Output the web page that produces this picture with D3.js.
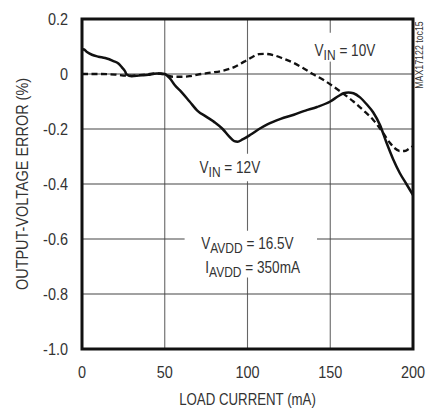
<!DOCTYPE html>
<html>
<head>
<meta charset="utf-8">
<script src="https://cdn.jsdelivr.net/npm/d3@7"></script>
<style>
    body { margin: 0; background: #fff; }
    text { font-family: "Liberation Sans", Arial, sans-serif; fill: #333; }
</style>
</head>
<body>
<svg id="chart" width="428" height="408"></svg>
<script>
// data
var x_ticks = [0, 50, 100, 150, 200];
var y_ticks = [0.2, 0, -0.2, -0.4, -0.6, -0.8, -1.0];
var y_tick_labels = ['0.2', '0', '-0.2', '-0.4', '-0.6', '-0.8', '-1.0'];

// VIN = 12V (solid)
var vin12_current = [0, 1, 3, 6, 10, 14, 19, 22, 24, 26, 27, 30, 35, 40, 45, 48, 50, 53, 56, 60, 65, 70, 75, 80, 85, 89, 92, 94, 97, 102, 107, 112, 120, 128, 135, 142, 150, 155, 158, 161, 164, 168, 172, 176, 180, 184, 188, 192, 196, 200];
var vin12_error = [0.085, 0.09, 0.08, 0.07, 0.063, 0.058, 0.047, 0.038, 0.025, 0.01, -0.002, -0.008, -0.005, -0.003, 0.002, 0.002, 0, -0.015, -0.04, -0.065, -0.1, -0.135, -0.155, -0.175, -0.2, -0.228, -0.244, -0.246, -0.238, -0.22, -0.2, -0.183, -0.163, -0.148, -0.133, -0.12, -0.1, -0.08, -0.07, -0.067, -0.07, -0.085, -0.11, -0.14, -0.185, -0.25, -0.31, -0.36, -0.4, -0.44];

// VIN = 10V (dashed)
var vin10_current = [0, 10, 20, 27, 35, 45, 50, 55, 60, 65, 70, 78, 85, 92, 98, 103, 107, 111, 116, 122, 128, 134, 140, 146, 152, 158, 164, 170, 176, 182, 186, 189, 192, 195, 198, 200];
var vin10_error = [0, 0, -0.002, -0.006, -0.004, 0.002, -0.002, -0.01, -0.01, -0.008, -0.002, 0.005, 0.012, 0.025, 0.045, 0.062, 0.072, 0.073, 0.068, 0.055, 0.04, 0.02, -0.002, -0.022, -0.046, -0.072, -0.1, -0.132, -0.167, -0.215, -0.25, -0.27, -0.28, -0.28, -0.27, -0.262];

// layout
var svg = d3.select('#chart');
var plot_left = 82, plot_right = 413, plot_top = 19, plot_bottom = 349;

// scales
var x = d3.scaleLinear().domain([0, 200]).range([plot_left, plot_right]);
var y = d3.scaleLinear().domain([-1.0, 0.2]).range([plot_bottom, plot_top]);

// condensed text helper
function txt(px, py, anchor, size, sx, rot) {
    var g = svg.append('g')
        .attr('transform', 'translate(' + px + ',' + py + ')' + (rot ? ' rotate(' + rot + ')' : '') + ' scale(' + sx + ',1)');
    return g.append('text').attr('text-anchor', anchor).attr('font-size', size);
}

// grid
var grid = svg.append('g');
grid.selectAll('line.v').data(x_ticks.slice(1, -1)).enter().append('line')
    .attr('x1', function(d) { return x(d); }).attr('x2', function(d) { return x(d); })
    .attr('y1', plot_top).attr('y2', plot_bottom)
    .attr('stroke', '#666').attr('stroke-width', 1.1);
grid.selectAll('line.h').data(y_ticks.slice(1, -1)).enter().append('line')
    .attr('x1', plot_left).attr('x2', plot_right)
    .attr('y1', function(d) { return y(d); }).attr('y2', function(d) { return y(d); })
    .attr('stroke', '#444').attr('stroke-width', 1.1);

// label backgrounds (break grid lines)
var gaps = [
    [x(62), y(-0.57), x(142), y(-0.74)],
    [x(70), y(-0.29), x(110), y(-0.39)],
    [x(140), y(0.15), x(180), y(0.045)]
];
svg.selectAll('rect.gap').data(gaps).enter().append('rect')
    .attr('x', function(d) { return d[0]; }).attr('y', function(d) { return d[1]; })
    .attr('width', function(d) { return d[2] - d[0]; }).attr('height', function(d) { return d[3] - d[1]; })
    .attr('fill', '#fff');

// curves
var line = d3.line()
    .x(function(d) { return x(d[0]); })
    .y(function(d) { return y(d[1]); })
    .curve(d3.curveMonotoneX);

svg.append('path')
    .datum(d3.zip(vin10_current, vin10_error))
    .attr('d', line).attr('fill', 'none')
    .attr('stroke', '#111').attr('stroke-width', 2.3)
    .attr('stroke-dasharray', '6,3.5');

svg.append('path')
    .datum(d3.zip(vin12_current, vin12_error))
    .attr('d', line).attr('fill', 'none')
    .attr('stroke', '#111').attr('stroke-width', 2.5);

// frame
svg.append('rect')
    .attr('x', plot_left).attr('y', plot_top)
    .attr('width', plot_right - plot_left).attr('height', plot_bottom - plot_top)
    .attr('fill', 'none').attr('stroke', '#111').attr('stroke-width', 3);

// x tick labels
x_ticks.forEach(function(d) {
    txt(x(d), 378, 'middle', 17, 0.85).text(d);
});

// y tick labels
y_ticks.forEach(function(d, i) {
    txt(68, y(d) + 6, 'end', 17, 0.85).text(y_tick_labels[i]);
});

// axis titles
txt(x(100), 405, 'middle', 17, 0.78).text('LOAD CURRENT (mA)');
txt(28, y(-0.4), 'middle', 17, 0.85, -90).text('OUTPUT-VOLTAGE ERROR (%)');

// toc label
txt(423, 55, 'middle', 11, 0.8, -90).text('MAX17122 toc15');

// annotations
function label(px, py, main, sub, rest) {
    var t = txt(px, py, 'start', 17, 0.8);
    t.append('tspan').text(main);
    t.append('tspan').attr('dy', 4).attr('font-size', 15).text(sub);
    t.append('tspan').attr('dy', -4).text(rest);
}
label(x(140.5), 56, 'V', 'IN', ' = 10V');
label(x(71), 173, 'V', 'IN', ' = 12V');
label(x(72), 249, 'V', 'AVDD', ' = 16.5V');
label(x(74.5), 273, 'I', 'AVDD', ' = 350mA');
</script>
</body>
</html>
